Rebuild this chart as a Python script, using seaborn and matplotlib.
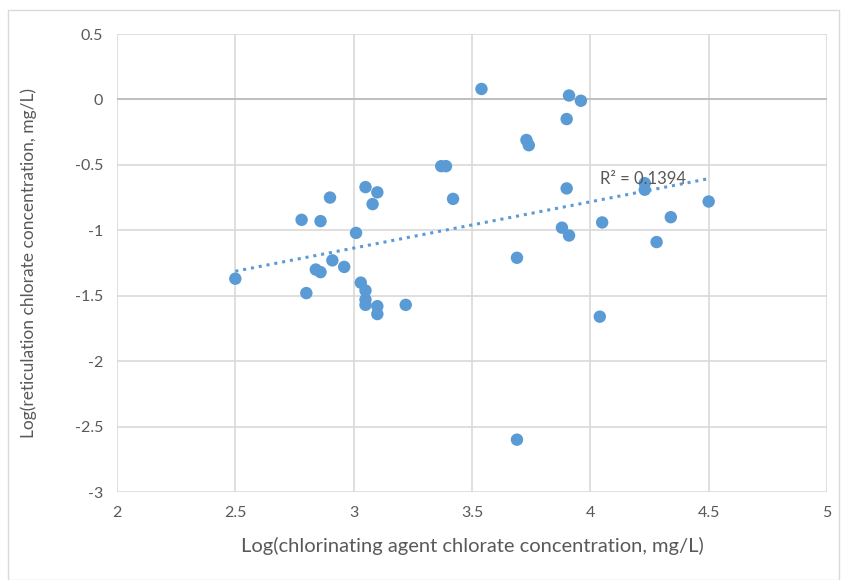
import numpy as np
import pandas as pd
import matplotlib
matplotlib.use("Agg")
import matplotlib.pyplot as plt
import seaborn as sns
from matplotlib.patches import Rectangle

# valores (log10 de concentraciones)
x_agente = [2.50, 2.78, 2.80, 2.86, 2.90, 2.84, 2.86, 2.91, 2.96, 3.01,
            3.05, 3.10, 3.08, 3.03, 3.05, 3.05, 3.05, 3.10, 3.10, 3.22,
            3.37, 3.39, 3.42, 3.54, 3.73, 3.74, 3.69, 3.69, 3.91, 3.96,
            3.90, 3.90, 3.88, 3.91, 4.05, 4.04, 4.23, 4.23, 4.28, 4.34, 4.50]
y_reticulacion = [-1.37, -0.92, -1.48, -0.93, -0.75, -1.30, -1.32, -1.23, -1.28, -1.02,
                  -0.67, -0.71, -0.80, -1.40, -1.46, -1.53, -1.57, -1.58, -1.64, -1.57,
                  -0.51, -0.51, -0.76, 0.08, -0.31, -0.35, -1.21, -2.60, 0.03, -0.01,
                  -0.15, -0.68, -0.98, -1.04, -0.94, -1.66, -0.64, -0.69, -1.09, -0.90, -0.78]
x_ticks = [2, 2.5, 3, 3.5, 4, 4.5, 5]
y_ticks = [0.5, 0, -0.5, -1, -1.5, -2, -2.5, -3]
etiqueta_r2 = "R² = 0.1394"

df = pd.DataFrame({"x": x_agente, "y": y_reticulacion})

sns.set_theme(style="white")
plt.rcParams['font.family'] = ['Lato', 'DejaVu Sans']

azul = "#5B9BD5"
gris_txt = "#595959"

fig = plt.figure(figsize=(8.45, 5.8), dpi=100)
ax = fig.add_axes([117/845, 1 - 492/580, 710/845, 458/580])

# borde exterior del area del grafico
fig.patches.append(Rectangle((8/845, 0), 831/845, 1 - 10/580, transform=fig.transFigure,
                             fill=False, edgecolor="#d9d9d9", lw=1))

sns.regplot(data=df, x="x", y="y", ax=ax, ci=None, truncate=True,
            scatter_kws={"s": 80, "color": azul, "alpha": 1, "edgecolor": "none", "zorder": 3},
            line_kws={"color": azul, "ls": (0, (1, 1.6)), "lw": 2.2, "zorder": 2})

ax.set_xlim(2, 5)
ax.set_ylim(-3, 0.5)
ax.set_xticks(x_ticks)
ax.set_xticklabels([f"{t:g}" for t in x_ticks])
ax.set_yticks(y_ticks)
ax.set_yticklabels([f"{t:g}" for t in y_ticks])
ax.grid(True, color="#d9d9d9", lw=1.2)
ax.set_axisbelow(True)
ax.axhline(0, color="#bfbfbf", lw=1.4, zorder=1)
for s in ax.spines.values():
    s.set_visible(False)
ax.tick_params(axis="both", length=0, labelsize=11.5, colors=gris_txt, pad=10)

ax.set_xlabel("Log(chlorinating agent chlorate concentration, mg/L)", fontsize=14.5,
              color=gris_txt, labelpad=12)
ax.set_ylabel("Log(reticulation chlorate concentration, mg/L)", fontsize=12.5,
              color=gris_txt)
ax.yaxis.set_label_coords(-(117 - 37) / 710, 0.5)

ax.text(4.04, -0.61, etiqueta_r2, fontsize=12, color=gris_txt, va="center", ha="left")

plt.savefig("out.png", dpi=100)
plt.close()
